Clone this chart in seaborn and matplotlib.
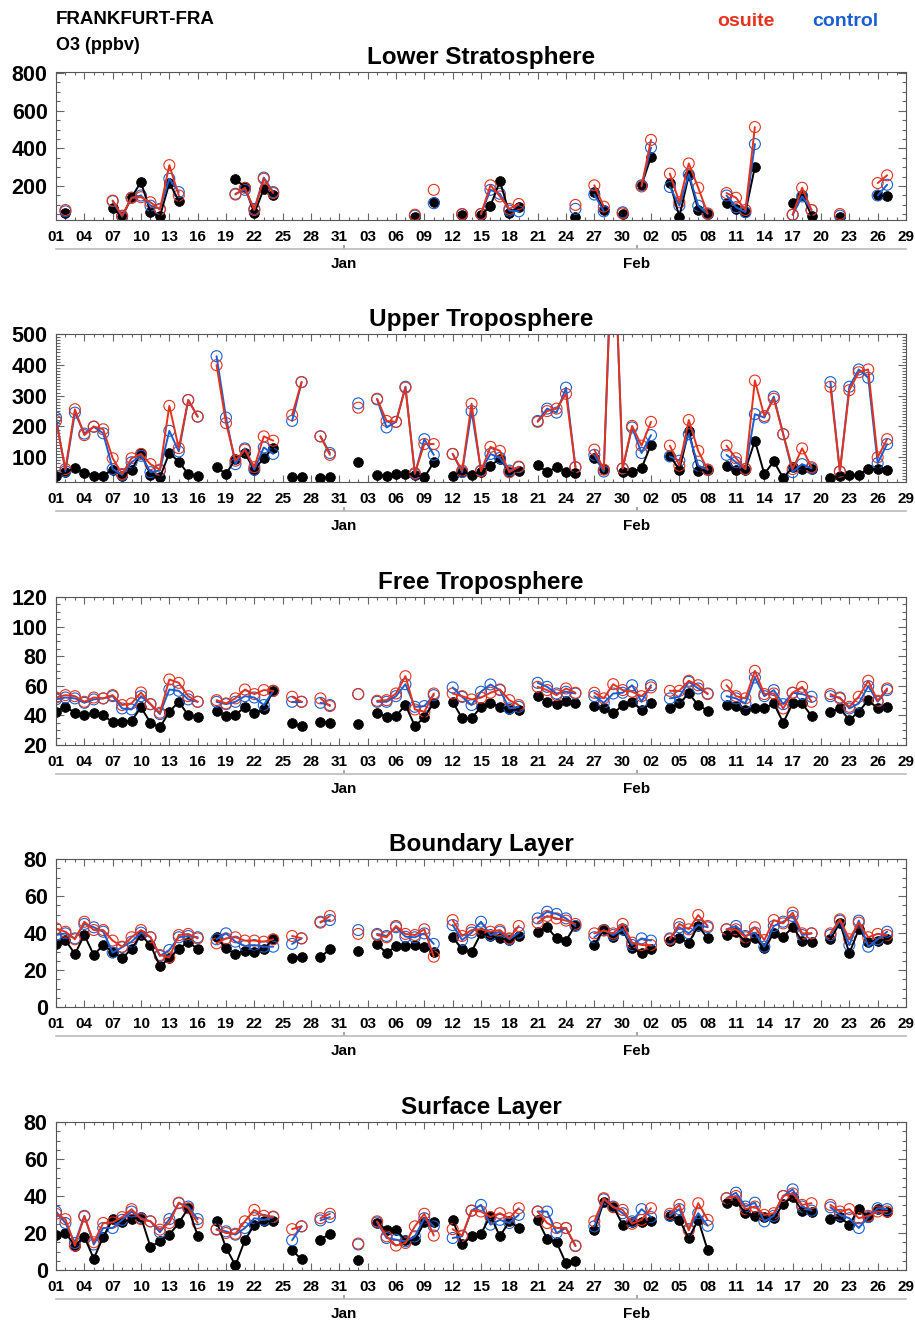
import numpy as np
import pandas as pd
import matplotlib
matplotlib.use("Agg")
import matplotlib.pyplot as plt
import matplotlib.dates as mdates
from matplotlib.ticker import MultipleLocator, FixedLocator, NullLocator
import seaborn as sns

nan = np.nan

# Lower stratosphere: only the days with flights in that layer
ls_days = ["12-02", "12-07", "12-08", "12-09", "12-10", "12-11", "12-12", "12-13", "12-14",
           "12-20", "12-21", "12-22", "12-23", "12-24",
           "01-08", "01-10", "01-13", "01-15", "01-16", "01-17", "01-18", "01-19", "01-25",
           "01-27", "01-28", "01-30",
           "02-01", "02-02", "02-04", "02-05", "02-06", "02-07", "02-08", "02-10", "02-11",
           "02-12", "02-13", "02-17", "02-18", "02-19", "02-22", "02-26", "02-27"]
ls_obs = [57, 84, 38, 141, 221, 61, 39, 216, 123, 236, 195, 55, 186, 150,
          38, 114, 46, 46, 96, 225, 57, 88, 38, 168, 75, 52,
          204, 355, 216, 38, 257, 73, 52, 109, 79, 61, 302, 109, 154, 43, 38, 154, 145]
ls_control = [66, 120, 38, 138, 150, 96, 79, 239, 168, 159, 180, 79, 245, 168,
              43, 109, 50, 52, 180, 159, 70, 66, 79, 155, 66, 61,
              204, 404, 195, 96, 262, 96, 52, 150, 88, 61, 423, 48, 145, 73, 43, 150, 207]
ls_osuite = [73, 123, 43, 138, 141, 114, 75, 311, 150, 155, 191, 73, 239, 163,
             48, 180, 52, 52, 204, 145, 79, 105, 100, 204, 91, 55,
             198, 445, 266, 114, 320, 191, 55, 163, 138, 73, 513, 48, 191, 73, 52, 216, 257]

# flight days shared by the other layers
flight_days = (
    ["12-%02d" % d for d in [1, 2, 3, 4, 5, 6, 7, 8, 9, 10, 11, 12, 13, 14, 15, 16,
                             18, 19, 20, 21, 22, 23, 24, 26, 27, 29, 30]]
    + ["01-%02d" % d for d in [2, 4, 5, 6, 7, 8, 9, 10, 12, 13, 14, 15, 16, 17, 18, 19,
                               21, 22, 23, 24, 25, 27, 28, 29, 30, 31]]
    + ["02-%02d" % d for d in [1, 2, 4, 5, 6, 7, 8, 10, 11, 12, 13, 14, 15, 16, 17, 18, 19,
                               21, 22, 23, 24, 25, 26, 27]]
)

ut_obs = [39, 52, 65, 49, 41, 41, 60, 41, 59, 114, 44, 35, 114, 86, 46, 39,
          68, 46, 95, 113, 60, 98, 130, 35, 35, 33, 35,
          86, 44, 39, 46, 46, 44, 35, 84, 41, 54, 43, 54, 73, 95, 54, 57,
          76, 52, 68, 54, 49, 97, 62, nan, 52, 52,
          65, 141, 105, 60, 186, 57, 60, 73, 60, 60, 154, 46, 87, 33, 68, 62, 62,
          33, 41, 44, 44, 62, 62, 60]
ut_control = [229, 55, 245, 177, 199, 178, 62, 43, 84, 105, 52, 57, 186, 119, 286, 232,
              428, 229, 78, 129, 60, 132, 111, 218, 344, 168, 114,
              275, 288, 197, 215, 329, 46, 159, 108, 111, 52, 250, 57, 111, 98, 57, 68,
              218, 258, 245, 326, 68, 108, 54, 900, 64, 197,
              114, 172, 103, 89, 175, 73, 60, 108, 84, 62, 240, 229, 297, 175, 52, 78, 64,
              344, 54, 329, 385, 358, 81, 143]
ut_osuite = [218, 62, 256, 172, 200, 191, 97, 46, 97, 111, 78, 60, 267, 130, 286, 232,
             399, 211, 89, 125, 68, 168, 154, 237, 344, 168, 108,
             261, 290, 218, 215, 326, 49, 143, 143, 111, 57, 274, 55, 134, 121, 52, 70,
             215, 250, 258, 306, 68, 125, 60, 900, 64, 202,
             138, 215, 138, 73, 221, 121, 60, 138, 97, 62, 349, 234, 290, 175, 62, 129, 68,
             329, 54, 318, 376, 385, 100, 159]

ft_obs = [42.5, 45.8, 41.8, 40.2, 41.3, 40.2, 35.3, 35.7, 36.4, 45.4, 35.1, 31.9, 42.5, 49.2, 40.2, 38.7,
          43.1, 39.6, 40.2, 45.8, 41.3, 44.0, 56.6, 34.6, 32.8, 35.7, 35.1,
          34.2, 41.8, 39.1, 39.6, 47.0, 32.8, 38.7, 48.5, 49.2, 38.0, 38.0, 45.8, 48.5, 45.8, 44.0, 43.6,
          53.0, 49.2, 47.6, 49.7, 48.1, 46.3, 44.7, 41.3, 47.0, 49.2,
          43.6, 48.1, 44.7, 48.1, 54.8, 47.0, 43.1, 47.0, 46.3, 43.6, 44.7, 44.7, 48.1, 35.1, 48.1, 48.1, 39.6,
          42.5, 44.7, 36.9, 42.5, 50.3, 44.7, 45.8]
ft_control = [50.8, 52.1, 51.5, 48.5, 50.8, 51.5, 53.0, 44.7, 44.0, 53.0, 47.6, 40.9, 57.5, 56.6, 50.8, 49.2,
              49.2, 47.6, 49.2, 53.0, 52.1, 47.0, 56.6, 49.2, 49.2, 48.5, 47.0,
              54.4, 49.2, 49.2, 53.0, 61.1, 45.8, 46.3, 53.7, 58.9, 52.5, 47.0, 56.0, 60.9, 57.1, 44.7, 45.8,
              62.0, 59.3, 54.8, 56.0, 54.8, 53.0, 48.5, 54.8, 55.3, 60.4,
              49.2, 60.4, 51.5, 52.6, 62.7, 58.2, 54.8, 53.0, 51.5, 48.1, 65.6, 53.0, 57.1, 47.6, 55.3, 54.4, 52.6,
              53.0, 52.1, 44.7, 48.1, 59.8, 49.2, 57.1]
ft_osuite = [52.1, 53.7, 53.0, 49.2, 52.1, 51.5, 53.7, 47.0, 48.1, 55.5, 47.6, 41.8, 64.3, 62.0, 53.0, 49.2,
             50.3, 48.1, 51.5, 57.5, 54.4, 57.1, 56.6, 52.6, 49.2, 51.5, 46.3,
             54.4, 49.9, 50.3, 54.8, 66.5, 44.0, 42.5, 54.8, 54.8, 53.0, 50.8, 52.0, 55.3, 57.5, 50.3, 47.0,
             59.3, 57.1, 53.7, 58.2, 55.3, 55.3, 51.5, 61.1, 57.1, 56.0,
             53.0, 58.9, 56.6, 56.6, 63.4, 60.4, 54.4, 60.4, 53.0, 51.5, 70.1, 54.4, 54.8, 44.7, 55.3, 59.3, 49.2,
             54.4, 51.5, 45.8, 52.6, 63.4, 49.9, 58.2]

bl_obs = [33.9, 36.2, 28.6, 38.9, 28.1, 33.5, 29.9, 26.3, 31.4, 38.9, 33.5, 22.2, 26.3, 31.4, 35.3, 31.2,
          37.7, 31.7, 28.6, 30.5, 29.9, 31.2, 36.8, 26.3, 27.2, 26.8, 31.4,
          30.5, 34.1, 29.0, 33.0, 33.0, 33.5, 32.6, 29.9, 37.7, 31.2, 29.9, 39.8, 38.4, 37.1, 36.2, 38.4,
          40.7, 43.1, 37.1, 35.9, 44.3, 33.5, 42.0, 37.7, 41.6, 31.7,
          29.0, 31.2, 35.9, 37.1, 34.8, 43.8, 37.1, 38.9, 40.7, 35.3, 37.1, 31.7, 39.8, 38.0, 43.1, 35.9, 35.3,
          36.6, 45.6, 29.0, 42.0, 35.3, 35.9, 36.6]
bl_control = [38.9, 39.8, 37.1, 44.9, 43.1, 40.7, 29.4, 32.3, 35.3, 40.2, 37.7, 27.6, 30.8, 37.7, 38.4, 37.7,
              36.6, 39.8, 35.3, 33.0, 33.5, 32.6, 32.6, 34.1, 37.1, 46.1, 47.0,
              41.6, 39.5, 38.4, 43.1, 38.0, 37.7, 39.8, 34.1, 44.3, 36.2, 40.2, 46.1, 38.9, 40.7, 36.6, 40.2,
              47.9, 51.5, 50.3, 47.9, 43.8, 37.7, 41.6, 38.9, 42.0, 33.5,
              37.1, 35.9, 37.1, 43.1, 39.8, 44.3, 43.1, 42.0, 43.8, 38.4, 40.2, 32.6, 43.8, 46.1, 49.2, 38.9, 39.8,
              38.9, 46.7, 33.5, 46.7, 32.6, 36.6, 40.7]
bl_osuite = [42.5, 40.7, 36.6, 46.1, 41.6, 41.6, 35.9, 32.6, 37.7, 41.6, 37.7, 28.1, 26.8, 38.9, 39.5, 37.1,
             34.4, 37.1, 37.7, 35.9, 35.9, 35.3, 36.6, 38.4, 37.1, 45.6, 49.2,
             39.5, 38.9, 37.7, 43.8, 39.5, 38.9, 42.0, 27.2, 47.0, 38.4, 41.6, 42.0, 40.7, 41.6, 37.1, 43.8,
             45.6, 49.2, 47.9, 46.7, 44.9, 39.8, 41.3, 39.8, 44.9, 34.8,
             33.5, 33.5, 36.6, 44.9, 42.0, 49.7, 43.8, 42.0, 42.0, 37.7, 43.1, 36.2, 47.0, 45.2, 51.0, 39.8, 39.8,
             39.8, 47.4, 36.6, 45.6, 37.7, 39.5, 38.9]

sl_obs = [19.1, 20.0, 13.2, 17.9, 6.1, 17.9, 27.5, 25.7, 27.5, 28.6, 12.5, 15.5, 19.1, 25.4, 33.4, 18.6,
          26.3, 12.0, 2.5, 16.1, 24.5, 26.3, 26.3, 10.7, 5.7, 16.4, 19.6,
          5.4, 25.4, 21.8, 21.8, 16.1, 16.1, 25.7, 25.7, 27.1, 13.8, 18.2, 19.6, 29.3, 18.2, 26.3, 22.7,
          27.1, 16.8, 15.0, 3.6, 4.8, 21.4, 37.0, 34.3, 24.5, 25.7,
          25.7, 26.3, 29.3, 27.1, 17.3, 27.1, 10.7, 36.1, 37.5, 30.7, 29.3, 28.6, 28.0, 35.7, 39.6, 32.1, 31.1,
          27.5, 28.6, 24.5, 32.9, 28.6, 32.9, 31.1]
sl_control = [31.6, 25.4, 14.6, 29.3, 13.8, 22.7, 22.7, 27.1, 31.6, 28.0, 26.3, 20.4, 27.5, 36.1, 34.3, 27.5,
              22.1, 20.9, 19.1, 22.7, 28.0, 27.1, 28.6, 16.1, 23.6, 26.8, 28.6,
              13.8, 25.7, 17.3, 16.4, 15.5, 18.2, 28.0, 23.6, 17.3, 18.2, 32.1, 35.2, 24.5, 27.1, 25.4, 29.8,
              31.6, 31.6, 20.0, 22.7, 12.9, 23.6, 38.2, 34.3, 30.7, 26.3,
              32.9, 28.6, 29.3, 32.9, 22.1, 30.7, 23.9, 38.8, 41.8, 34.3, 36.4, 26.3, 29.3, 40.0, 43.6, 34.3, 32.1,
              33.9, 29.8, 28.0, 22.7, 28.6, 33.4, 32.9]
sl_osuite = [30.4, 27.5, 13.2, 28.9, 15.0, 25.4, 25.7, 28.6, 32.9, 27.5, 26.3, 21.8, 25.4, 36.4, 33.4, 25.4,
             21.8, 20.0, 19.6, 26.3, 32.5, 29.3, 28.9, 22.1, 23.6, 28.0, 30.4,
             14.3, 26.3, 18.2, 13.2, 14.6, 23.6, 30.4, 18.6, 22.1, 18.6, 32.1, 31.6, 28.6, 30.7, 28.0, 33.4,
             31.6, 25.4, 22.7, 22.7, 13.2, 26.3, 38.8, 33.9, 32.5, 25.0,
             27.1, 33.4, 30.4, 35.2, 21.4, 36.1, 27.1, 38.8, 40.0, 32.9, 34.3, 29.8, 30.7, 40.0, 41.4, 35.2, 36.1,
             35.2, 31.6, 32.9, 28.0, 29.3, 31.6, 31.6]

panels = [
    ("Lower Stratosphere", ls_days, ls_obs, ls_control, ls_osuite, (20, 805), 200, 50),
    ("Upper Troposphere", flight_days, ut_obs, ut_control, ut_osuite, (20, 500), 100, 10),
    ("Free Troposphere", flight_days, ft_obs, ft_control, ft_osuite, (20, 120), 20, 5),
    ("Boundary Layer", flight_days, bl_obs, bl_control, bl_osuite, (0, 80), 20, 5),
    ("Surface Layer", flight_days, sl_obs, sl_control, sl_osuite, (0, 80), 20, 5),
]

RED = "#e5321c"
BLUE = "#1a5fd2"


def to_dates(days):
    return pd.to_datetime([("2023-" if d.startswith("12") else "2024-") + d for d in days])


def draw_series(ax, dates, values, color, filled):
    df = pd.DataFrame({"date": dates, "val": values}).dropna()
    # a new line piece starts wherever a day is missing
    df["seg"] = df["date"].diff().dt.days.ne(1).cumsum()
    sns.lineplot(data=df, x="date", y="val", units="seg", estimator=None,
                 color=color, lw=1.4, ax=ax, legend=False)
    if filled:
        sns.scatterplot(data=df, x="date", y="val", color=color, s=50,
                        edgecolor=color, linewidth=0.5, ax=ax, legend=False)
    else:
        sns.scatterplot(data=df, x="date", y="val", color=color, s=62,
                        facecolor="none", edgecolor=color, linewidth=0.8, ax=ax, legend=False)


sns.set_theme(style="ticks")
plt.rcParams["font.family"] = ["Liberation Sans", "DejaVu Sans"]
plt.rcParams["font.weight"] = "bold"
plt.rcParams["text.color"] = "black"
plt.rcParams["axes.titleweight"] = "bold"

fig = plt.figure(figsize=(9.15, 13.22), dpi=100)
W, H = 915.0, 1322.0

start, end = pd.Timestamp("2023-12-01"), pd.Timestamp("2024-02-29")
tick_dates = pd.date_range(start, end, freq="3D")
month_pos = [pd.Timestamp("2023-12-31 12:00"), pd.Timestamp("2024-01-31 12:00")]
axes_tops = [72, 334, 597, 859, 1122]

for (title, days, obs, ctl, osu, ylim, major, minor), top in zip(panels, axes_tops):
    ax = fig.add_axes([56 / W, 1 - (top + 148) / H, 850 / W, 148 / H])
    dates = to_dates(days)
    draw_series(ax, dates, obs, "black", True)
    draw_series(ax, dates, ctl, BLUE, False)
    draw_series(ax, dates, osu, RED, False)

    ax.set_xlim(start, end)
    ax.set_ylim(*ylim)
    ax.set_xlabel("")
    ax.set_ylabel("")
    ax.set_title(title, fontsize=17.5, fontweight="bold", color="black", pad=6)

    ax.xaxis.set_major_locator(FixedLocator(mdates.date2num(tick_dates)))
    ax.xaxis.set_major_formatter(mdates.DateFormatter("%d"))
    ax.xaxis.set_minor_locator(mdates.DayLocator())
    ax.yaxis.set_major_locator(MultipleLocator(major))
    ax.yaxis.set_minor_locator(MultipleLocator(minor))
    ax.tick_params(which="both", direction="in", top=True, right=True,
                   color="#666666", labelcolor="black", width=0.8)
    ax.tick_params(axis="x", which="major", length=5, labelsize=11, pad=7)
    ax.tick_params(axis="x", which="minor", length=2.5)
    ax.tick_params(axis="y", which="major", length=6, labelsize=15.5, pad=6)
    ax.tick_params(axis="y", which="minor", length=3)
    for sp in ax.spines.values():
        sp.set_color("#555555")
        sp.set_linewidth(0.8)

    # month axis under the day labels
    sec = ax.secondary_xaxis(-0.195)
    sec.set_xticks(mdates.date2num(month_pos), labels=["Jan", "Feb"])
    sec.xaxis.set_minor_locator(NullLocator())
    sec.tick_params(direction="in", length=3, labelsize=11, pad=6, color="#999999",
                    labelcolor="black")
    sec.spines["bottom"].set_color("#bbbbbb")
    sec.spines["bottom"].set_linewidth(1.2)

fig.text(56 / W, 1 - 20 / H, "FRANKFURT-FRA", fontsize=13.5, fontweight="bold", va="center", ha="left")
fig.text(56 / W, 1 - 46 / H, "O3 (ppbv)", fontsize=13, fontweight="bold", va="center", ha="left")
fig.text(746 / W, 1 - 21 / H, "osuite", color=RED, fontsize=14, fontweight="bold", va="center", ha="center")
fig.text(845 / W, 1 - 21 / H, "control", color=BLUE, fontsize=14, fontweight="bold", va="center", ha="center")

fig.savefig("out.png", dpi=100)
